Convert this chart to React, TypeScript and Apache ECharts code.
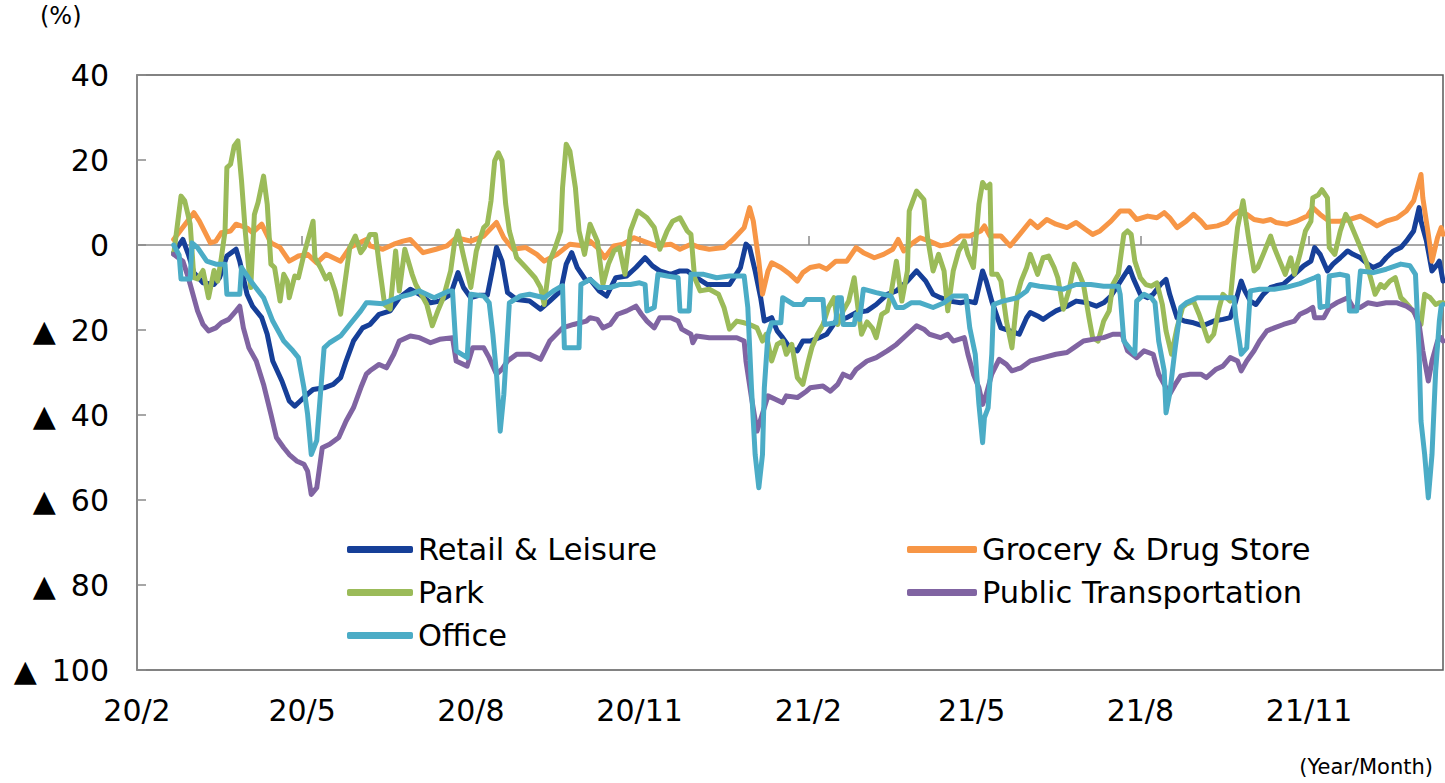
import React, { useEffect, useRef } from "react";
import * as echarts from "echarts";

// x values: days counted from 2020-02-01; y values: % change vs. baseline
const LAST_DAY = 712;

const retail: [number, number][] = [
  [20,-1.8],[25,1.3],[28,-2.2],[31,-6.5],[36,-8.9],[42,-9.3],[45,-7.7],[49,-2.6],[54,-1.0],[56,-3.8],[60,-11.6],[63,-14.4],[68,-17.1],[71,-21],[74,-27.3],[79,-32],[83,-36.7],[86,-37.9],[89,-36.7],[93,-35.1],[96,-34],[102,-33.6],[107,-32.8],[111,-31.2],[114,-27.3],[118,-22.6],[123,-19.5],[127,-18.7],[132,-16.3],[138,-15.5],[143,-12.4],[149,-10.4],[154,-11.6],[160,-13.6],[165,-13.2],[171,-11.6],[175,-6.5],[178,-10],[182,-12.4],[187,-11.8],[191,-11.8],[194,-5.3],[196,-0.6],[199,-3.8],[202,-11.2],[207,-12.8],[214,-13.2],[220,-15.1],[225,-13.2],[231,-10.8],[234,-4.5],[237,-1.8],[240,-5.3],[245,-8.5],[247,-8.1],[252,-10.8],[256,-12],[261,-7.7],[267,-7.3],[272,-5.3],[277,-3],[281,-4.9],[285,-6.1],[291,-6.9],[296,-6.1],[300,-6.1],[305,-7.7],[311,-9.3],[316,-9.3],[323,-9.3],[329,-5.3],[332,0.2],[334,-0.6],[337,-6.1],[340,-12.4],[342,-17.9],[346,-17.1],[349,-20.2],[352,-21.8],[356,-24.2],[360,-24.9],[363,-22.6],[367,-22.6],[372,-21.8],[376,-21],[381,-17.9],[387,-17.1],[392,-15.9],[398,-15.5],[403,-14],[409,-11.6],[414,-10.8],[420,-8.5],[425,-6.1],[430,-8.5],[434,-11.6],[438,-12.4],[443,-13.2],[449,-13.6],[453,-13.2],[457,-13.6],[461,-6.1],[463,-8.5],[466,-13.2],[471,-19.5],[476,-20.2],[481,-21],[485,-17.1],[487,-15.9],[491,-16.7],[494,-17.5],[498,-16.3],[501,-15.5],[507,-14.4],[512,-13.2],[518,-13.6],[523,-14.4],[527,-13.6],[531,-12],[534,-10],[538,-7.3],[541,-5.3],[543,-7.7],[547,-11.6],[551,-12.4],[554,-11.6],[558,-9.3],[561,-8.1],[563,-11.6],[567,-17.1],[571,-17.9],[576,-18.3],[581,-19],[587,-17.9],[592,-17.5],[596,-17.1],[599,-13.2],[602,-8.5],[604,-10.8],[607,-13.2],[610,-14],[614,-11.6],[618,-10],[621,-9.6],[625,-9.2],[629,-7.7],[632,-6.5],[636,-4.9],[640,-3.8],[642,-0.6],[645,-2.2],[649,-6.1],[652,-4.5],[656,-3],[660,-1.4],[663,-2.2],[667,-3],[671,-4.5],[674,-5.3],[678,-4.5],[681,-3],[685,-1.4],[689,-0.6],[692,0.9],[696,3.3],[699,8.8],[700,5.6],[703,0.9],[706,-6.1],[709,-4.5],[710,-3.8],[712,-8.5]
];

const grocery: [number, number][] = [
  [20,1.3],[31,7.6],[34,5.6],[40,0.5],[43,0.9],[46,2.9],[51,3.3],[54,4.9],[60,4],[63,2.9],[68,4.9],[73,0.5],[78,-0.6],[83,-3.8],[88,-2.6],[93,-2.2],[98,-4.2],[103,-2.2],[111,-3.8],[116,-0.6],[125,1.3],[127,-0.2],[134,-1],[140,0.2],[145,0.9],[149,1.3],[156,-1.8],[163,-1],[169,-0.2],[174,1.7],[182,0.9],[189,2.1],[196,5.3],[200,1.7],[205,-1],[212,-0.6],[218,-2.2],[222,-3.8],[229,-2.2],[236,0.2],[243,-0.2],[247,0.9],[251,-0.6],[255,-3],[260,-0.2],[265,0.2],[271,1.7],[276,0.9],[283,-0.2],[291,0.2],[296,-1],[302,0.2],[307,-0.6],[312,-1],[320,-0.6],[325,1.3],[331,4.1],[334,8.8],[336,5.6],[339,-3.8],[341,-11.6],[344,-6.1],[346,-4.2],[351,-5.3],[356,-6.9],[360,-8.5],[363,-6.5],[367,-5.3],[372,-4.9],[376,-5.7],[381,-3.8],[387,-3.8],[392,-0.6],[396,-1.8],[402,-3],[407,-2.2],[412,-1],[415,1.3],[418,-1.4],[423,0.5],[427,1.7],[432,0.9],[438,-0.2],[443,0.2],[449,2.1],[454,2.1],[460,3.3],[462,4.5],[465,2.1],[471,2.1],[476,-0.2],[482,2.9],[487,5.6],[491,4.1],[496,6],[501,4.9],[507,4.1],[512,5.3],[517,3.7],[521,2.5],[525,3.3],[531,5.6],[536,8],[541,8],[545,6],[551,6.8],[556,6.4],[560,7.6],[563,6.4],[567,4.1],[572,5.6],[576,7.2],[580,5.6],[583,4.1],[589,4.5],[594,5.3],[598,7.2],[601,8],[605,7.2],[609,6],[614,5.6],[618,6],[621,5.3],[627,4.9],[632,5.6],[638,6.8],[641,8.8],[645,7.2],[650,5.6],[656,5.6],[661,6],[667,6.8],[672,5.6],[676,4.5],[681,5.6],[687,6.4],[692,8],[696,10.4],[698,13.5],[700,16.6],[701,11.1],[704,2.5],[706,-3.8],[709,1.7],[711,4.1],[712,2.5]
];

const park: [number, number][] = [
  [20,-2.2],[24,11.5],[26,10.4],[29,4.9],[31,-7.7],[33,-8],[36,-6],[39,-12.4],[42,-6],[44,-8.5],[46,-3],[48,3.3],[49,18.2],[51,19],[53,23.3],[55,24.5],[57,15],[59,3.3],[61,-6],[62,-10],[64,7.2],[66,10],[69,16.2],[71,9.6],[73,-4.5],[75,-5.3],[78,-13.2],[80,-6.9],[82,-8.5],[83,-12.4],[86,-7.3],[88,-7.7],[91,-2.2],[93,0.9],[96,5.6],[97,-3],[100,-5.3],[103,-8],[105,-6.9],[108,-10.8],[111,-16.3],[113,-10],[116,-0.6],[119,2.1],[122,-1.8],[124,-0.6],[127,2.5],[130,2.5],[132,-4.5],[135,-14],[138,-15.1],[141,-1.4],[143,-10.8],[146,-1],[150,-6.9],[152,-9.3],[155,-11.6],[158,-14],[161,-19],[164,-15.5],[167,-12.4],[171,-6.1],[173,0.2],[175,3.3],[178,-2.6],[182,-10],[185,-1.4],[189,4.1],[191,4.9],[193,10.4],[195,19.8],[197,21.7],[199,19.8],[201,9.6],[203,3.3],[207,-3],[212,-5.3],[217,-7.7],[220,-10],[222,-14],[225,-3.8],[228,-0.6],[231,3.3],[232,13.5],[234,23.7],[236,22.1],[239,13.5],[241,3.3],[244,-2.2],[247,4.9],[251,0.9],[254,-9.3],[257,-4.5],[260,-1.4],[263,-0.6],[266,-6.9],[269,3.3],[273,8],[278,6.4],[282,4.1],[285,-1],[289,3.3],[292,5.6],[296,6.4],[300,3.3],[302,2.5],[304,-7.7],[307,-10.8],[312,-10.4],[317,-11.6],[320,-14.7],[323,-19.8],[327,-17.9],[331,-18.3],[334,-18.7],[338,-19.5],[341,-22.6],[343,-21],[346,-27.3],[349,-23.4],[352,-22.6],[354,-25.7],[357,-23.4],[360,-31.2],[363,-32.8],[366,-27.3],[368,-24],[371,-21],[374,-18.7],[377,-14.7],[380,-12.4],[382,-18.7],[385,-15.5],[388,-13.2],[391,-7.7],[393,-14.7],[395,-21],[398,-18.1],[401,-19.6],[403,-21.8],[406,-16.3],[409,-15.5],[411,-11.6],[414,-3.8],[417,-13.2],[420,-6.1],[421,8],[423,10.4],[425,12.7],[429,10.7],[431,1.7],[434,-6.1],[437,-2.2],[440,-6.1],[442,-15.5],[445,-6.1],[448,-1.4],[451,0.9],[453,-2.2],[456,-5.3],[459,9.6],[461,14.7],[463,13.5],[465,14.3],[466,-6.9],[469,-6.9],[471,-8.5],[474,-17.9],[477,-24.2],[480,-11.6],[482,-8.5],[485,-5.3],[487,-2.2],[491,-6.9],[494,-3],[497,-2.6],[500,-5.3],[502,-7.7],[505,-15.1],[508,-10.8],[511,-4.5],[513,-6.1],[516,-9.3],[519,-17.1],[521,-21.8],[524,-22.6],[527,-17.9],[530,-15.5],[532,-9.3],[535,-6.9],[538,2.5],[540,3.3],[542,2.5],[544,-3.8],[547,-7.7],[550,-9.3],[553,-9.7],[556,-8.9],[559,-14],[561,-20.2],[564,-25.7],[567,-19.5],[570,-14.7],[572,-13.9],[576,-13.2],[579,-16.3],[581,-18.7],[584,-22.6],[587,-21],[590,-14.7],[592,-11.6],[596,-13.2],[598,-3.8],[600,4.1],[603,10.4],[606,1.7],[609,-6.1],[611,-5.3],[614,-2.2],[618,2.1],[620,-0.6],[623,-3.8],[626,-6.9],[629,-3],[631,-6.9],[634,-2.2],[637,3.3],[640,5.6],[641,11.1],[644,11.8],[646,13],[649,11.1],[650,-0.6],[653,-2.2],[656,3.3],[659,7.2],[661,5.6],[664,2.5],[667,-0.6],[670,-3.8],[672,-6.9],[675,-11.6],[678,-9.3],[680,-10],[683,-8.5],[686,-7.7],[689,-12.4],[691,-13.2],[694,-14.7],[697,-16.3],[700,-18.7],[702,-11.6],[705,-12.4],[708,-14],[710,-13.6],[712,-13.6]
];

const transit: [number, number][] = [
  [20,-2.2],[25,-3.8],[28,-7.7],[31,-12.4],[33,-15.5],[36,-18.7],[39,-20.2],[43,-19.5],[46,-18.3],[50,-17.5],[54,-15.5],[56,-14.4],[58,-19.5],[61,-24.2],[65,-27.3],[69,-32.8],[73,-39.8],[76,-45.3],[80,-47.7],[83,-49.3],[87,-50.8],[91,-51.6],[93,-53.2],[95,-58.7],[98,-57.1],[101,-47.7],[105,-46.9],[110,-45.3],[114,-41.4],[118,-38.3],[122,-33.6],[125,-30.4],[127,-29.6],[132,-28.1],[136,-28.9],[140,-25.7],[143,-22.6],[149,-21.4],[154,-21.8],[160,-23],[165,-22.2],[172,-21.8],[174,-27.3],[180,-28.5],[183,-24.2],[189,-24.2],[192,-26.5],[196,-30.4],[199,-29.2],[202,-27.3],[207,-25.7],[214,-25.7],[220,-26.9],[225,-22.6],[232,-19.5],[238,-18.7],[245,-17.9],[247,-17.1],[251,-17.5],[254,-19.5],[258,-18.7],[262,-16.3],[267,-15.5],[272,-14.4],[275,-16.3],[278,-17.9],[282,-19.5],[285,-17.1],[291,-17.1],[295,-17.9],[297,-19.8],[302,-21],[303,-23],[305,-21.4],[312,-21.8],[320,-21.8],[327,-21.8],[331,-22.6],[332,-27.3],[335,-35.9],[338,-43.8],[342,-38.3],[344,-35.5],[348,-36.3],[352,-37.1],[354,-35.5],[360,-35.9],[365,-34.4],[367,-33.6],[374,-33.2],[378,-34.4],[382,-32.8],[385,-30.4],[389,-31.2],[392,-29.3],[398,-27.3],[403,-26.5],[409,-24.9],[414,-23.4],[420,-21],[425,-19],[429,-19.8],[432,-21],[438,-21.8],[442,-21],[445,-22.6],[451,-21.8],[453,-25.7],[456,-30.4],[459,-33.6],[461,-37.5],[463,-35.1],[466,-30.4],[470,-26.9],[474,-28.1],[477,-29.6],[482,-28.9],[487,-27.3],[494,-26.5],[501,-25.7],[507,-25.3],[512,-23.8],[516,-22.6],[521,-22.2],[527,-21.8],[532,-21],[537,-21],[540,-24.9],[545,-26.5],[549,-24.9],[554,-25.7],[557,-30.4],[560,-32.8],[563,-35.1],[566,-32.8],[569,-30.8],[574,-30.4],[580,-30.4],[583,-31.2],[588,-29.3],[592,-28.5],[596,-26.5],[600,-27.3],[602,-29.6],[605,-27.3],[609,-24.9],[612,-22.6],[616,-20.2],[620,-19.5],[625,-18.7],[631,-17.9],[634,-16.3],[638,-15.5],[641,-14.7],[642,-17.1],[647,-17.1],[650,-14.7],[654,-13.6],[660,-12.4],[663,-14.7],[667,-14.7],[671,-13.6],[676,-14],[681,-13.6],[687,-13.6],[692,-14.4],[696,-15.5],[699,-18.7],[701,-24.9],[704,-32],[706,-27.3],[709,-22.6],[711,-21.8],[712,-22.6]
];

const office: [number, number][] = [
  [20,0],[23,-2.4],[24,-8],[29,-8],[30,0.5],[33,-0.6],[38,-3.8],[43,-4.5],[48,-4.5],[49,-11.6],[56,-11.6],[57,-5.3],[62,-8.5],[69,-12.4],[74,-17.9],[80,-22.6],[85,-24.9],[88,-26.5],[91,-33.6],[93,-39.8],[95,-49.3],[98,-46],[102,-24.2],[105,-23],[111,-21.4],[116,-18.7],[122,-15.5],[125,-13.6],[127,-13.6],[134,-13.8],[142,-12.4],[149,-11.6],[154,-10.8],[162,-12.4],[170,-10.8],[172,-10.8],[174,-24.9],[180,-26.5],[182,-11.6],[189,-12],[192,-13.6],[194,-21],[196,-30.4],[198,-43.8],[200,-35.1],[202,-21],[203,-13.6],[209,-12],[214,-11.6],[222,-12.4],[227,-10.8],[232,-9.6],[233,-24.2],[241,-24.2],[242,-9.3],[247,-8.1],[252,-10],[258,-10],[263,-9.3],[269,-9.3],[274,-8.9],[277,-9.3],[278,-15.5],[282,-14.7],[284,-6.9],[289,-7.3],[295,-7.7],[296,-15.5],[301,-15.5],[302,-6.9],[309,-6.9],[316,-7.7],[323,-7.3],[331,-7.3],[333,-14.7],[335,-33.6],[337,-49.3],[339,-57.1],[341,-49.3],[342,-33.6],[344,-21],[346,-18.3],[351,-18.3],[352,-12.4],[358,-14],[363,-14],[365,-12.8],[374,-12.8],[375,-18.7],[381,-18.3],[382,-12.4],[384,-12.4],[385,-18.7],[391,-18.7],[392,-16.3],[394,-17.5],[396,-10.4],[403,-11.2],[411,-12],[414,-14.7],[418,-14.7],[422,-13.6],[427,-13.6],[434,-14.7],[440,-13.6],[445,-12],[452,-12],[454,-19.5],[457,-25.7],[459,-37.5],[461,-46.5],[462,-40.6],[464,-38.3],[466,-25.7],[467,-14],[472,-13.2],[480,-12.4],[485,-10.8],[487,-9.3],[492,-9.7],[498,-10],[505,-10.4],[512,-9.3],[520,-9.3],[527,-9.7],[535,-9.7],[536,-11.6],[538,-22.6],[541,-24.2],[544,-25.7],[545,-13.2],[549,-11.6],[553,-12.4],[555,-13.6],[557,-22.6],[560,-29.6],[561,-39.5],[563,-35],[566,-24.2],[569,-14.7],[572,-13.6],[578,-12.4],[589,-12.4],[598,-12.4],[599,-17],[601,-22.6],[602,-25.7],[605,-24.2],[607,-10.8],[612,-10.4],[620,-10.4],[627,-9.9],[634,-9.1],[642,-7.7],[644,-7.3],[645,-14.7],[649,-14.3],[650,-7.3],[656,-6.9],[660,-7.3],[661,-15.5],[665,-15.5],[667,-6.1],[674,-6.5],[681,-5.7],[689,-4.5],[694,-4.9],[697,-6.9],[699,-25.7],[700,-41.4],[702,-49.3],[704,-59.5],[706,-49.3],[708,-29.6],[710,-17.9],[711,-14.4],[712,-14]
];

const seriesNames = [
  "Retail & Leisure",
  "Grocery & Drug Store",
  "Park",
  "Public Transportation",
  "Office",
];
const seriesColors = ["#163F98", "#F79646", "#9BBB59", "#8064A2", "#4BACC6"];
const seriesData = [retail, grocery, park, transit, office];

// Quarterly axis labels: first day of month, as days since 2020-02-01
const quarterDays = [0, 90, 182, 274, 366, 455, 547, 639];
const quarterLabels = ["20/2", "20/5", "20/8", "20/11", "21/2", "21/5", "21/8", "21/11"];

const FONT = "'DejaVu Sans', Verdana, sans-serif";

export default function App() {
  const ref = useRef<HTMLDivElement>(null);

  useEffect(() => {
    document.body.style.margin = "0";
    if (!ref.current) return;
    const chart = echarts.init(ref.current, undefined, { renderer: "svg" });

    const series = seriesNames.map((name, i) => ({
      name,
      type: "line",
      xAxisIndex: 0,
      yAxisIndex: 0,
      showSymbol: false,
      symbol: "none",
      color: seriesColors[i],
      lineStyle: { width: 5, color: seriesColors[i], cap: "round", join: "round" },
      data: seriesData[i],
      z: 2 + i,
    }));

    const legendBase = {
      orient: "vertical",
      padding: 0,
      itemGap: 12,
      itemHeight: 7,
      icon: "roundRect",
      textStyle: { fontSize: 30.5, fontFamily: FONT, color: "#000", lineHeight: 30 },
    };

    chart.setOption({
      animation: false,
      backgroundColor: "#fff",
      grid: {
        left: 137,
        top: 75,
        width: 1306,
        height: 595,
        show: true,
        borderColor: "#595959",
        borderWidth: 1.5,
        containLabel: false,
        outerBoundsMode: "none",
      },
      legend: [
        {
          ...legendBase,
          left: 347,
          top: 534,
          itemWidth: 66,
          data: ["Retail & Leisure", "Park", "Office"],
        },
        {
          ...legendBase,
          left: 907,
          top: 534,
          itemWidth: 70,
          data: ["Grocery & Drug Store", "Public Transportation"],
        },
      ],
      xAxis: [
        {
          type: "value",
          position: "bottom",
          min: 0,
          max: LAST_DAY,
          axisLine: { show: false, onZero: false },
          axisTick: { show: false },
          splitLine: { show: false },
          axisLabel: {
            customValues: quarterDays,
            hideOverlap: false,
            showMinLabel: true,
            fontSize: 30,
            fontFamily: FONT,
            color: "#000",
            margin: 25,
            formatter: (v: number) => {
              const k = quarterDays.indexOf(Math.round(v));
              return k >= 0 ? quarterLabels[k] : "";
            },
          },
        },
        {
          type: "value",
          position: "top",
          min: 0,
          max: LAST_DAY,
          axisLine: { show: true, onZero: true, lineStyle: { color: "#8a8a8a", width: 1.5 } },
          axisTick: {
            show: true,
            customValues: quarterDays,
            length: 9,
            lineStyle: { color: "#8a8a8a", width: 1.5 },
          },
          axisLabel: { show: false },
          splitLine: { show: false },
        },
      ],
      yAxis: {
        type: "value",
        min: -100,
        max: 40,
        interval: 20,
        axisLine: { show: true, onZero: false, lineStyle: { color: "#8a8a8a", width: 1.5 } },
        axisTick: { show: true, inside: true, length: 9, lineStyle: { color: "#8a8a8a", width: 1.5 } },
        splitLine: { show: false },
        axisLabel: {
          fontSize: 30,
          fontFamily: FONT,
          color: "#000",
          margin: 28,
          formatter: (v: number) => (v < 0 ? `\u25B2\u2002${-v}` : `${v}`),
        },
      },
      graphic: [
        {
          type: "text",
          left: 40,
          top: 4,
          style: { text: "(%)", fontSize: 24, fontFamily: FONT, fill: "#000" },
        },
        {
          type: "text",
          right: 12,
          top: 756,
          style: { text: "(Year/Month)", fontSize: 21, fontFamily: FONT, fill: "#000" },
        },
      ],
      series,
    });

    return () => chart.dispose();
  }, []);

  return (
    <div
      ref={ref}
      style={{ position: "absolute", left: 0, top: 0, width: 1445, height: 783 }}
    />
  );
}
